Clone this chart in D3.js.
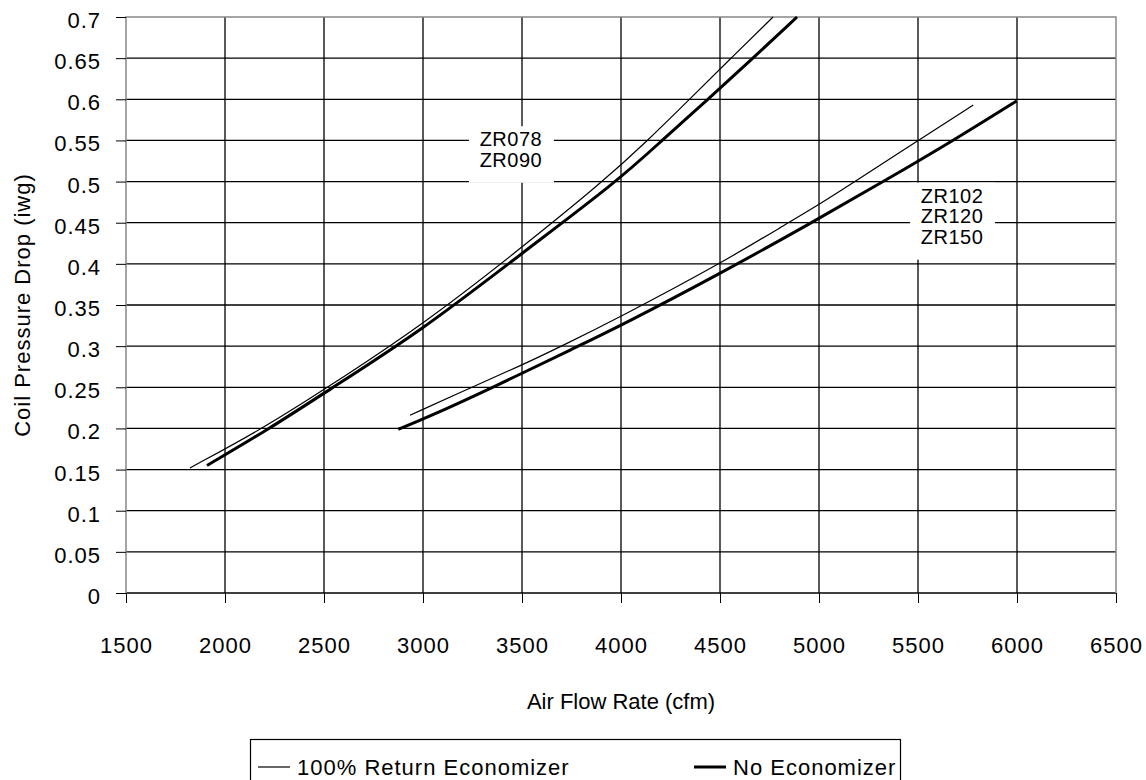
<!DOCTYPE html>
<html>
<head>
<meta charset="utf-8">
<script src="https://cdn.jsdelivr.net/npm/d3@7"></script>
<style>
  body { margin: 0; background: #fff; }
  text { font-family: "Liberation Sans", Arial, sans-serif; fill: #000; }
</style>
</head>
<body>
<svg id="chart" width="1146" height="780"></svg>
<script>
// Data
var xTicks = [1500, 2000, 2500, 3000, 3500, 4000, 4500, 5000, 5500, 6000, 6500];
var yTicks = [0, 0.05, 0.1, 0.15, 0.2, 0.25, 0.3, 0.35, 0.4, 0.45, 0.5, 0.55, 0.6, 0.65, 0.7];

// ZR078 / ZR090
var smallEcon = [[1823, 0.152], [2192, 0.2], [2500, 0.247], [3000, 0.326], [3500, 0.42], [3909, 0.5], [4131, 0.549], [4338, 0.598], [4551, 0.649], [4768, 0.7]];
var smallNoEcon = [[1909, 0.155], [2227, 0.2], [2500, 0.243], [3000, 0.32], [3500, 0.413], [3980, 0.5], [4207, 0.55], [4439, 0.6], [4667, 0.65], [4889, 0.7]];

// ZR102 / ZR120 / ZR150
var bigEcon = [[2934, 0.216], [3246, 0.25], [3500, 0.277], [3700, 0.3], [4000, 0.336], [4500, 0.4], [4845, 0.45], [5000, 0.472], [5182, 0.5], [5500, 0.55], [5779, 0.593]];
var bigNoEcon = [[2875, 0.199], [3000, 0.211], [3355, 0.25], [3784, 0.3], [4000, 0.325], [4500, 0.388], [4963, 0.45], [5325, 0.5], [5679, 0.55], [5998, 0.598]];

var seriesNames = ['100% Return Economizer', 'No Economizer'];
var labelLines = [['ZR078', 'ZR090'], ['ZR102', 'ZR120', 'ZR150']];
var labelAt = [[3444, 0.539], [5672, 0.458]];

var margin = {top: 17, right: 30, bottom: 187, left: 126};
var width = 1146, height = 780;

var x = d3.scaleLinear().domain([1500, 6500]).range([margin.left, width - margin.right]);
var y = d3.scaleLinear().domain([0, 0.7]).range([height - margin.bottom, margin.top]);

var svg = d3.select('#chart');

// grid
svg.append('g')
  .selectAll('line')
  .data(yTicks.slice(0, -1))
  .join('line')
  .attr('x1', x(1500)).attr('x2', x(6500))
  .attr('y1', function(d) { return y(d) }).attr('y2', function(d) { return y(d) })
  .attr('stroke', '#000').attr('stroke-width', 1.3);

svg.append('g')
  .selectAll('line')
  .data(xTicks.slice(1, -1))
  .join('line')
  .attr('x1', function(d) { return x(d) }).attr('x2', function(d) { return x(d) })
  .attr('y1', y(0)).attr('y2', y(0.7))
  .attr('stroke', '#000').attr('stroke-width', 1.3);

// plot frame (grey) on top/left/right
svg.append('path')
  .attr('d', 'M' + x(1500) + ',' + y(0) + 'V' + y(0.7) + 'H' + x(6500) + 'V' + y(0))
  .attr('fill', 'none')
  .attr('stroke', '#888')
  .attr('stroke-width', 1.5);

// axes
var yAxis = d3.axisLeft(y).tickValues(yTicks).tickSize(10).tickPadding(15)
  .tickFormat(function(d) { return String(+d.toFixed(2)) });
var gy = svg.append('g').attr('transform', 'translate(' + x(1500) + ',0)').call(yAxis);
gy.select('.domain').remove();
gy.selectAll('.tick line').attr('stroke', '#000');
gy.selectAll('.tick text')
  .attr('dy', null).attr('y', 10.5)
  .style('font-size', '22px').style('letter-spacing', '1px')
  .style('font-family', '"Liberation Sans", Arial, sans-serif');

var xAxis = d3.axisBottom(x).tickValues(xTicks).tickSize(10).tickPadding(0)
  .tickFormat(d3.format('d'));
var gx = svg.append('g').attr('transform', 'translate(0,' + y(0) + ')').call(xAxis);
gx.select('.domain').remove();
gx.selectAll('.tick line').attr('stroke', '#000');
gx.selectAll('.tick text')
  .attr('dy', null).attr('y', 60)
  .style('font-size', '22px').style('letter-spacing', '1px')
  .style('font-family', '"Liberation Sans", Arial, sans-serif');

// axis titles
svg.append('text')
  .attr('x', (x(1500) + x(6500)) / 2)
  .attr('y', 709)
  .attr('text-anchor', 'middle')
  .style('font-size', '22px')
  .text('Air Flow Rate (cfm)');

svg.append('text')
  .attr('transform', 'translate(30,' + (y(0) + y(0.7)) / 2 + ') rotate(-90)')
  .attr('text-anchor', 'middle')
  .style('font-size', '22px').style('letter-spacing', '1px')
  .text('Coil Pressure Drop (iwg)');

// curves
var line = d3.line()
  .x(function(d) { return x(d[0]) })
  .y(function(d) { return y(d[1]) })
  .curve(d3.curveBasis);

var curves = [
  {pts: smallEcon, w: 1.2},
  {pts: smallNoEcon, w: 3},
  {pts: bigEcon, w: 1.2},
  {pts: bigNoEcon, w: 3}
];

svg.append('g')
  .selectAll('path')
  .data(curves)
  .join('path')
  .attr('d', function(d) { return line(d.pts) })
  .attr('fill', 'none')
  .attr('stroke', '#000')
  .attr('stroke-width', function(d) { return d.w });

// curve labels with white boxes
var lineGap = 20.5;
labelLines.forEach(function(lines, i) {
  var cx = x(labelAt[i][0]), cy = y(labelAt[i][1]);
  var first = cy - (lines.length - 1) * lineGap / 2 + 7;
  var g = svg.append('g');
  g.append('rect')
    .attr('x', cx - 42)
    .attr('y', first - 20)
    .attr('width', 85)
    .attr('height', (lines.length - 1) * lineGap + 36)
    .attr('fill', '#fff');
  g.selectAll('text')
    .data(lines)
    .join('text')
    .attr('x', cx)
    .attr('y', function(d, j) { return first + j * lineGap })
    .attr('text-anchor', 'middle')
    .style('font-size', '20px')
    .style('letter-spacing', '0.5px')
    .text(function(d) { return d });
});

// legend
var legend = svg.append('g');
legend.append('rect')
  .attr('x', 250.5).attr('y', 739.5)
  .attr('width', 650).attr('height', 80)
  .attr('fill', '#fff').attr('stroke', '#000').attr('stroke-width', 1.2);

var legendX = [258, 694];
var legendW = [1.2, 3];
seriesNames.forEach(function(name, i) {
  legend.append('line')
    .attr('x1', legendX[i]).attr('x2', legendX[i] + 32)
    .attr('y1', 767).attr('y2', 767)
    .attr('stroke', '#000').attr('stroke-width', legendW[i]);
  legend.append('text')
    .attr('x', legendX[i] + 39).attr('y', 775)
    .style('font-size', '22px').style('letter-spacing', '1px')
    .text(name);
});
</script>
</body>
</html>
